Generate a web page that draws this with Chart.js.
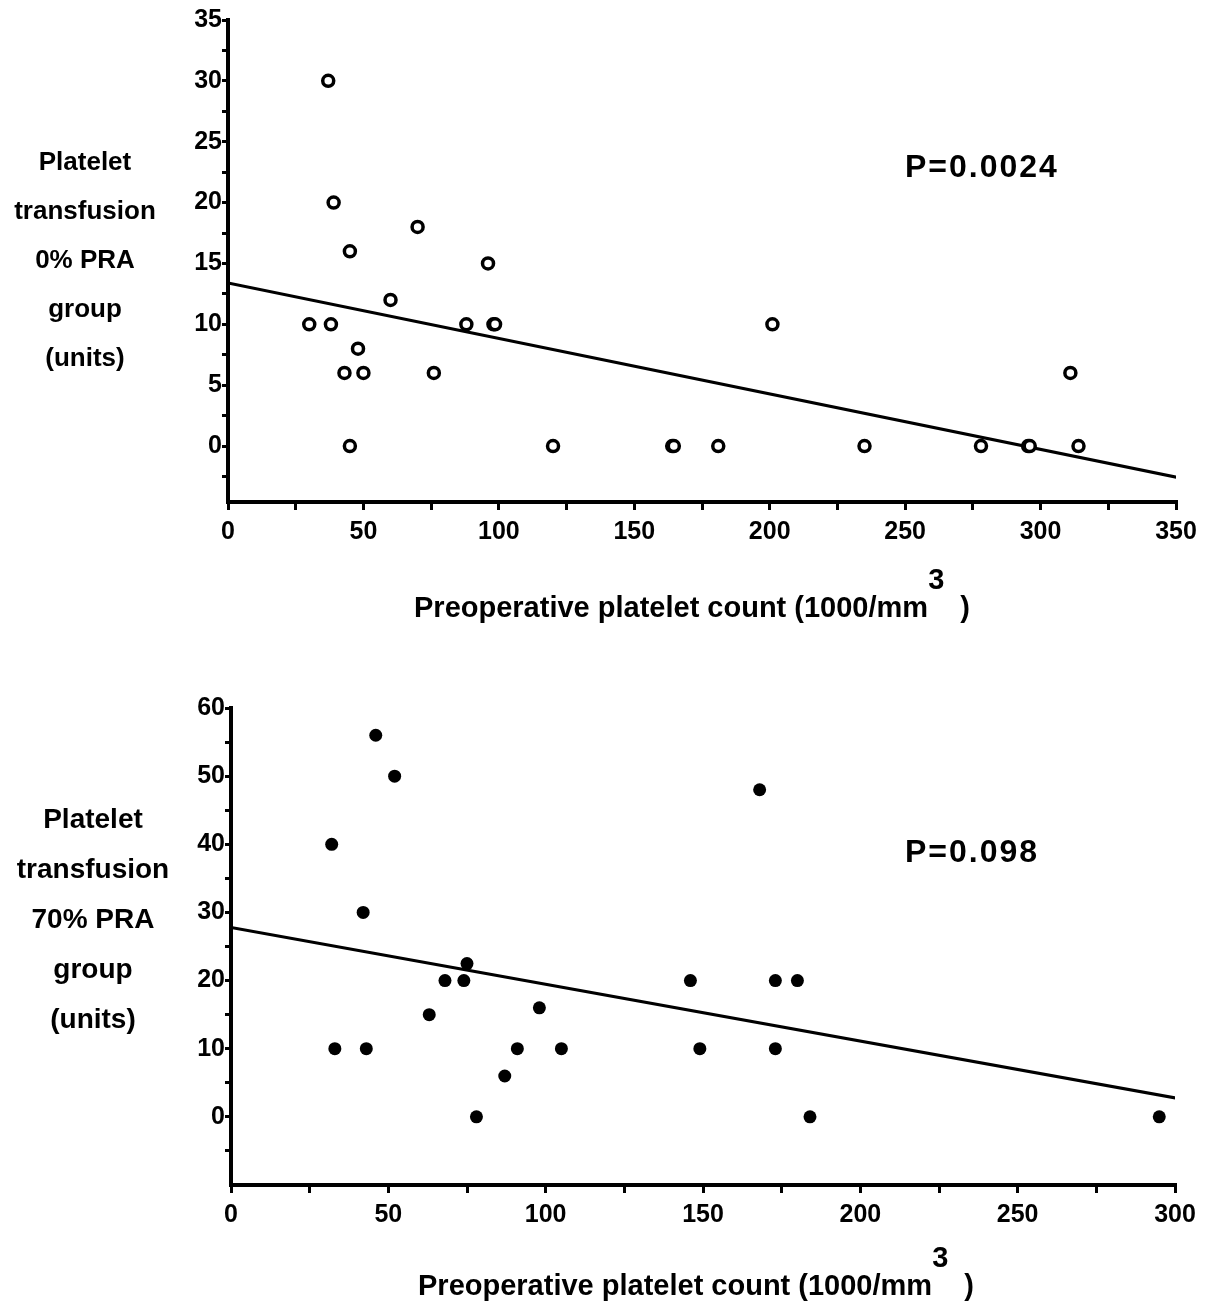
<!DOCTYPE html>
<html>
<head>
<meta charset="utf-8">
<script src="https://cdn.jsdelivr.net/npm/chart.js@4.4.0/dist/chart.umd.min.js"></script>
<style>
  body { margin: 0; background: #fff; }
  #page { position: relative; width: 1212px; height: 1310px; font-family: "Liberation Sans", Arial, sans-serif; font-weight: bold; color: #000; }
  canvas { position: absolute; left: 0; }
  .ylab { position: absolute; text-align: center; line-height: 49px; }
  .pval { position: absolute; font-size: 32px; letter-spacing: 2px; line-height: 36px; }
  .xlab { position: absolute; font-size: 29px; white-space: nowrap; line-height: 34px; }
  .xlab .sup { position: relative; top: -28px; margin-right: 16px; }
</style>
</head>
<body>
<div id="page">
  <canvas id="top-chart" width="1212" height="640" style="top:0"></canvas>
  <canvas id="bottom-chart" width="1212" height="670" style="top:640px"></canvas>

  <div class="ylab" style="left:0; top:137px; width:170px; font-size:26px">Platelet<br>transfusion<br>0% PRA<br>group<br>(units)</div>
  <div class="pval" style="left:905px; top:148px">P=0.0024</div>
  <div class="xlab" style="left:414px; top:590px">Preoperative platelet count (1000/mm<span class="sup">3</span>)</div>

  <div class="ylab" style="left:0; top:794px; width:186px; font-size:28px; line-height:50px">Platelet<br>transfusion<br>70% PRA<br>group<br>(units)</div>
  <div class="pval" style="left:905px; top:833px">P=0.098</div>
  <div class="xlab" style="left:418px; top:1268px">Preoperative platelet count (1000/mm<span class="sup">3</span>)</div>
</div>

<script>
// 0% PRA group (open circles)
var topX = [37, 39, 45, 70, 96, 60, 30, 38, 88, 98, 98.6, 48, 43, 50, 76, 45, 120, 164, 164.6, 181, 235, 278, 295.4, 296, 311, 314, 201]
var topY = [30, 20, 16, 18, 15, 12, 10, 10, 10, 10, 10, 8, 6, 6, 6, 0, 0, 0, 0, 0, 0, 0, 0, 0, 6, 0, 10]
var topFitX = [0, 351]
var topFitY = [13.4, -2.6]
var topXTicks = [0, 50, 100, 150, 200, 250, 300, 350]
var topYTicks = [0, 5, 10, 15, 20, 25, 30, 35]

// 70% PRA group (filled circles)
var bottomX = [46, 52, 32, 42, 75, 68, 74, 63, 98, 33, 43, 91, 105, 87, 78, 168, 146, 173, 180, 149, 173, 184, 295]
var bottomY = [56, 50, 40, 30, 22.5, 20, 20, 15, 16, 10, 10, 10, 10, 6, 0, 48, 20, 20, 20, 10, 10, 0, 0]
var bottomFitX = [0, 301]
var bottomFitY = [27.8, 2.7]
var bottomXTicks = [0, 50, 100, 150, 200, 250, 300]
var bottomYTicks = [0, 10, 20, 30, 40, 50, 60]

var tickFont = { family: '"Liberation Sans", Arial, sans-serif', size: 25, weight: 'bold' }

function pairs(xs, ys) {
  return xs.map(function (x, i) { return { x: x, y: ys[i] } })
}

// major ticks get labels, the in-between ones are only marks
function withMinor(major) {
  var out = []
  for (var i = 0; i < major.length; i++) {
    out.push({ value: major[i] })
    if (i < major.length - 1) out.push({ value: (major[i] + major[i + 1]) / 2 })
  }
  return out
}

function makeChart(id, opts) {
  var ctx = document.getElementById(id).getContext('2d')
  return new Chart(ctx, {
    type: 'scatter',
    data: {
      datasets: [
        {
          label: 'points',
          data: pairs(opts.x, opts.y),
          pointRadius: opts.radius,
          pointBorderWidth: opts.filled ? 0 : 3.5,
          pointBackgroundColor: opts.filled ? '#000' : '#fff',
          pointBorderColor: '#000',
        },
        {
          type: 'line',
          label: 'fit',
          data: pairs(opts.fitX, opts.fitY),
          borderColor: '#000',
          borderWidth: 3,
          pointRadius: 0,
          fill: false,
        }
      ]
    },
    options: {
      responsive: false,
      animation: false,
      layout: { padding: opts.padding },
      plugins: { legend: { display: false }, tooltip: { enabled: false } },
      scales: {
        x: {
          type: 'linear',
          min: opts.xTicks[0],
          max: opts.xTicks[opts.xTicks.length - 1],
          afterBuildTicks: function (s) { s.ticks = withMinor(opts.xTicks) },
          afterFit: function (s) { s.height = opts.xHeight; s.paddingLeft = 0; s.paddingRight = 0 },
          border: { display: true, color: '#000', width: 4 },
          grid: { drawOnChartArea: false, drawTicks: true, tickLength: 8, tickColor: '#000', lineWidth: 3 },
          ticks: {
            color: '#000', font: tickFont, padding: 7, maxRotation: 0, autoSkip: false,
            callback: function (v) { return opts.xTicks.indexOf(v) >= 0 ? v : '' }
          }
        },
        y: {
          type: 'linear',
          min: opts.yMin,
          max: opts.yTicks[opts.yTicks.length - 1],
          afterBuildTicks: function (s) {
            var t = withMinor(opts.yTicks)
            t.unshift({ value: opts.yTicks[0] - (opts.yTicks[1] - opts.yTicks[0]) / 2 })
            s.ticks = t
          },
          afterFit: function (s) { s.width = opts.yWidth; s.paddingTop = 0; s.paddingBottom = 0 },
          border: { display: true, color: '#000', width: 4 },
          grid: { drawOnChartArea: false, drawTicks: true, tickLength: 6, tickColor: '#000', lineWidth: 3 },
          ticks: {
            color: '#000', font: tickFont, padding: 0, autoSkip: false,
            callback: function (v) { return opts.yTicks.indexOf(v) >= 0 ? v : '' }
          }
        }
      }
    }
  })
}

var topChart = makeChart('top-chart', {
  x: topX, y: topY, fitX: topFitX, fitY: topFitY,
  xTicks: topXTicks, yTicks: topYTicks, yMin: -4.6,
  filled: false, radius: 5.5,
  padding: { left: 0, right: 36, top: 20, bottom: 0 },
  yWidth: 228, xHeight: 138
})

var bottomChart = makeChart('bottom-chart', {
  x: bottomX, y: bottomY, fitX: bottomFitX, fitY: bottomFitY,
  xTicks: bottomXTicks, yTicks: bottomYTicks, yMin: -10,
  filled: true, radius: 6.5,
  padding: { left: 0, right: 37, top: 68, bottom: 0 },
  yWidth: 231, xHeight: 125
})
</script>
</body>
</html>
